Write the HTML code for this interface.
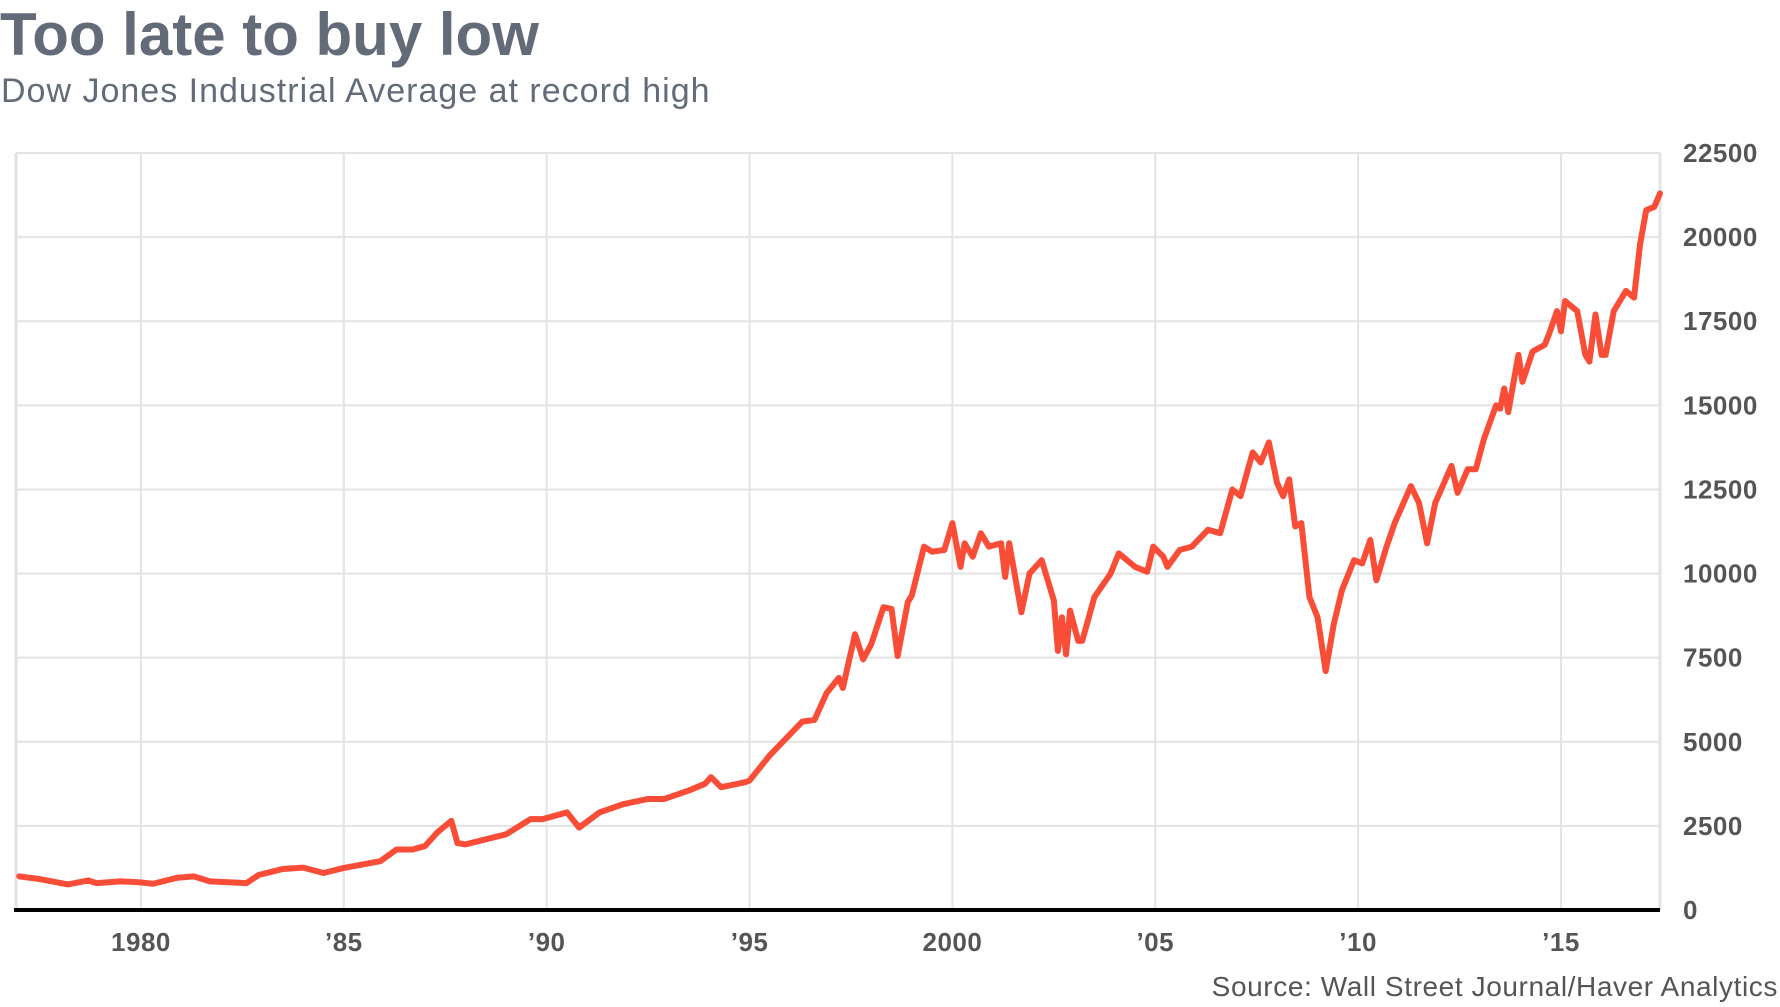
<!DOCTYPE html>
<html><head><meta charset="utf-8"><style>
body{margin:0;background:#fff;width:1780px;height:1002px;overflow:hidden;font-family:"Liberation Sans",sans-serif}
</style></head><body>
<svg width="1780" height="1002" xmlns="http://www.w3.org/2000/svg">
<text x="0" y="55" font-size="60" font-weight="bold" fill="#636b78">Too late to buy low</text>
<text x="1" y="102" font-size="34" letter-spacing="1" fill="#636b78">Dow Jones Industrial Average at record high</text>
<g id="grid"></g>
<g id="plot"></g>
<text x="1778" y="996" font-size="28" letter-spacing="0.6" fill="#555" text-anchor="end">Source: Wall Street Journal/Haver Analytics</text>
</svg>
<script>
const yTicks=[0,2500,5000,7500,10000,12500,15000,17500,20000,22500];
const xTickYears=[1980,1985,1990,1995,2000,2005,2010,2015];
const xTickLabels=["1980","\u201985","\u201990","\u201995","2000","\u201905","\u201910","\u201915"];
const dates=[1977.0,1977.5,1978.2,1978.7,1978.9,1979.5,1979.9,1980.3,1980.9,1981.3,1981.7,1982.6,1982.9,1983.5,1984.0,1984.5,1985.0,1985.9,1986.3,1986.7,1987.0,1987.3,1987.65,1987.8,1988.0,1988.5,1989.0,1989.6,1989.9,1990.5,1990.8,1991.3,1991.9,1992.5,1992.9,1993.5,1993.9,1994.05,1994.3,1994.9,1995.0,1995.5,1995.9,1996.3,1996.6,1996.9,1997.2,1997.3,1997.6,1997.8,1998.0,1998.3,1998.5,1998.65,1998.9,1999.0,1999.3,1999.5,1999.8,2000.0,2000.2,2000.3,2000.5,2000.7,2000.9,2001.2,2001.3,2001.4,2001.7,2001.9,2002.2,2002.5,2002.6,2002.7,2002.8,2002.9,2003.1,2003.2,2003.5,2003.9,2004.1,2004.5,2004.8,2004.95,2005.2,2005.3,2005.6,2005.9,2006.3,2006.6,2006.9,2007.1,2007.4,2007.6,2007.8,2008.0,2008.15,2008.3,2008.45,2008.6,2008.8,2009.0,2009.2,2009.4,2009.6,2009.9,2010.1,2010.3,2010.45,2010.7,2010.9,2011.3,2011.5,2011.7,2011.9,2012.3,2012.45,2012.7,2012.9,2013.1,2013.4,2013.5,2013.6,2013.7,2013.95,2014.05,2014.3,2014.6,2014.7,2014.9,2015.0,2015.1,2015.4,2015.6,2015.7,2015.85,2016.0,2016.1,2016.3,2016.6,2016.8,2016.95,2017.1,2017.3,2017.44];
const values=[1000,920,760,880,800,850,830,780,960,1000,850,800,1040,1220,1260,1100,1250,1450,1800,1800,1900,2300,2650,1990,1950,2100,2250,2700,2700,2900,2450,2900,3150,3300,3300,3550,3750,3950,3650,3800,3850,4600,5100,5600,5650,6450,6900,6600,8200,7450,7900,9000,8950,7550,9150,9350,10800,10650,10700,11500,10200,10900,10500,11200,10800,10900,9900,10900,8850,10000,10400,9200,7700,8700,7600,8900,8000,8000,9300,10000,10600,10200,10050,10800,10500,10200,10700,10800,11300,11200,12500,12300,13600,13300,13900,12700,12300,12800,11400,11500,9300,8700,7100,8500,9500,10400,10300,11000,9800,10800,11500,12600,12100,10900,12100,13200,12400,13100,13100,14000,15000,14900,15500,14800,16500,15700,16600,16800,17100,17800,17200,18100,17800,16500,16300,17700,16500,16500,17800,18400,18200,19800,20800,20900,21300];
const L=16,R=1660,T=153,B=910,X0=1976.92,X1=2017.44,YMAX=22500;
const xs=d=>L+(d-X0)/(X1-X0)*(R-L);
const ys=v=>B-v/YMAX*(B-T);
const NS="http://www.w3.org/2000/svg";
const grid=document.getElementById('grid'),plot=document.getElementById('plot');
function mk(tag,attrs,parent){const e=document.createElementNS(NS,tag);for(const k in attrs)e.setAttribute(k,attrs[k]);parent.appendChild(e);return e;}
yTicks.forEach(v=>{
  const g=mk('line',{x1:L,x2:R,y1:ys(v),y2:ys(v),stroke:'#e3e3e3','stroke-width':2},grid);
  
  
  const t=mk('text',{x:1683,y:ys(v)+9,'font-size':26,'font-weight':'bold','letter-spacing':0.5,fill:'#555'},grid);
  t.textContent=v;
  
  
});
xTickYears.forEach((y,i)=>{
  const g=mk('line',{x1:xs(y),x2:xs(y),y1:T,y2:B,stroke:'#e3e3e3','stroke-width':2},grid);
  
  
  const t=mk('text',{x:xs(y),y:951,'font-size':26,'font-weight':'bold','letter-spacing':0.5,fill:'#555','text-anchor':'middle'},grid);
  t.textContent=xTickLabels[i];
  
  
});
[L,R].forEach(x=>{const e=mk('line',{x1:x,x2:x,y1:T,y2:B,stroke:'#e3e3e3','stroke-width':3},grid);

});
const ax=mk('line',{x1:L-2,x2:R,y1:B,y2:B,stroke:'#000','stroke-width':4},grid);


const p=mk('polyline',{points:dates.map((d,i)=>xs(d)+','+ys(values[i])).join(' '),fill:'none',stroke:'#fa4d38','stroke-width':6,'stroke-linejoin':'round','stroke-linecap':'round'},plot);


</script>
</body></html>
